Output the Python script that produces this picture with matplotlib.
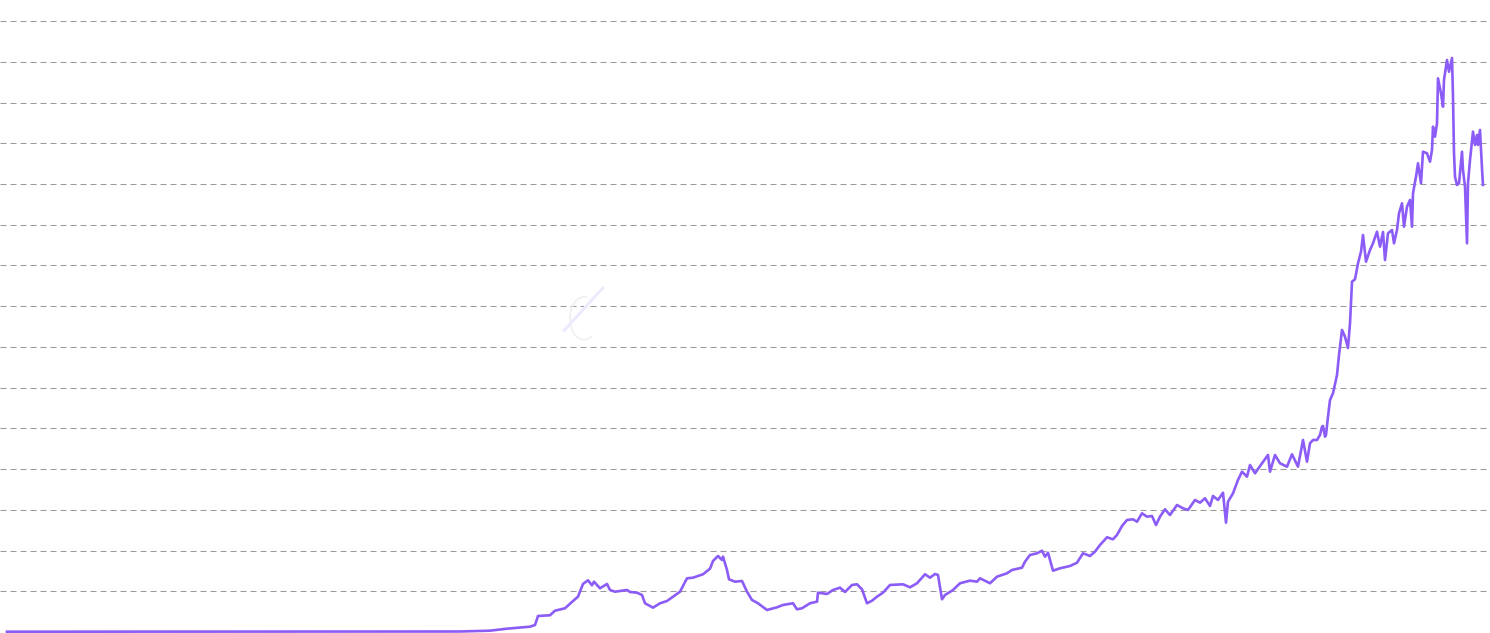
import numpy as np
import matplotlib
matplotlib.use("Agg")
from matplotlib import pyplot as plt

# trading day index and closing price (grid step = 10)
days = [0, 453, 483, 500, 523, 528, 531, 543, 548, 558, 566, 571, 576, 581, 585, 587,
        593, 600, 603, 608, 620, 623, 630, 635, 638, 646, 653, 660, 666, 673, 680, 686,
        696, 703, 706, 711, 715, 716, 720, 722, 728, 735, 740, 745, 751, 760, 770, 776,
        786, 790, 795, 803, 810, 811, 820, 826, 833, 838, 845, 850, 855, 860, 865, 870,
        876, 883, 896, 903, 910, 918, 923, 928, 931, 935, 938, 946, 953, 963, 970, 973,
        983, 990, 1000, 1005, 1015, 1018, 1023, 1030, 1035, 1038, 1041, 1046, 1053, 1063,
        1070, 1076, 1083, 1088, 1093, 1100, 1106, 1110, 1115, 1120, 1126, 1130, 1135, 1140,
        1145, 1149, 1153, 1158, 1163, 1170, 1176, 1181, 1188, 1193, 1198, 1203, 1206, 1211,
        1216, 1219, 1221, 1226, 1231, 1235, 1240, 1243, 1248, 1255, 1261, 1263, 1268, 1273,
        1280, 1285, 1291, 1296, 1300, 1303, 1306, 1310, 1313, 1315, 1316, 1318, 1319, 1321,
        1323, 1326, 1330, 1332, 1335, 1338, 1341, 1343, 1345, 1348, 1351, 1354, 1356, 1359,
        1363, 1366, 1370, 1373, 1376, 1378, 1381, 1385, 1387, 1390, 1392, 1395, 1397, 1400,
        1403, 1405, 1406, 1409, 1411, 1414, 1416, 1420, 1423, 1425, 1426, 1428, 1430, 1431,
        1434, 1436, 1437, 1440, 1442, 1445, 1446, 1447, 1448, 1450, 1452, 1455, 1456, 1458,
        1460, 1461, 1463, 1466, 1468, 1470, 1471, 1473, 1475, 1476]

price = [0.07, 0.12, 0.32, 0.81, 1.30, 1.72, 3.93, 4.10, 5.23, 5.82, 7.61, 8.67, 11.79, 12.69,
         11.47, 12.35, 10.73, 11.79, 10.31, 9.89, 10.31, 9.82, 9.65, 9.08, 7.05, 5.97, 7.05,
         7.61, 8.67, 9.89, 13.18, 13.33, 14.17, 15.54, 17.43, 18.66, 17.68, 18.49, 15.22,
         12.94, 12.35, 12.52, 9.89, 7.86, 7.05, 5.40, 6.06, 6.63, 7.05, 5.57, 5.82, 7.05,
         7.44, 9.65, 9.33, 10.31, 10.88, 9.82, 11.54, 11.71, 10.48, 7.05, 7.68, 8.67, 9.65,
         11.54, 11.71, 10.97, 11.96, 14.17, 13.33, 14.24, 13.99, 8.03, 9.08, 10.31, 11.96,
         12.60, 12.35, 13.18, 11.96, 13.58, 14.41, 15.22, 15.79, 17.26, 18.91, 19.32, 19.96,
         18.49, 19.47, 15.05, 15.64, 16.20, 17.01, 19.32, 18.66, 19.72, 21.36, 23.25, 22.76,
         23.82, 26.02, 27.50, 27.67, 27.08, 29.14, 28.31, 28.48, 26.27, 28.31, 30.13, 28.73,
         31.18, 30.37, 29.95, 32.41, 31.75, 32.83, 30.94, 33.39, 32.41, 34.20, 26.84, 31.99,
         34.05, 37.32, 39.36, 38.13, 41.00, 38.96, 41.42, 43.46, 39.36, 43.46, 41.42, 40.58,
         43.63, 40.58, 47.14, 41.81, 46.33, 47.14, 47.14, 48.37, 50.41, 50.58, 47.95, 48.37,
         52.86, 56.96, 58.61, 63.10, 68.01, 74.15, 72.50, 69.73, 75.79, 86.00, 86.60, 90.52,
         93.37, 97.47, 90.92, 93.79, 95.43, 98.28, 94.60, 98.21, 91.33, 97.89, 98.70, 95.43,
         98.70, 102.80, 105.25, 99.51, 104.42, 106.07, 99.51, 107.71, 111.79, 115.08, 110.16,
         117.92, 117.53, 115.47, 118.34, 124.06, 121.61, 124.90, 135.94, 132.26, 128.97,
         135.53, 140.44, 137.56, 140.92, 131.43, 117.53, 111.79, 109.75, 110.16, 117.92,
         113.43, 109.33, 95.43, 110.16, 115.89, 122.84, 119.57, 122.02, 119.57, 123.25,
         113.85, 109.75]

grid_levels = np.arange(10, 160, 10)

fig = plt.figure(figsize=(14.9, 6.33), dpi=100)
ax = fig.add_axes([0, 0, 1, 1])

for lvl in grid_levels:
    ax.axhline(lvl, color='#9a9a9a', lw=0.75, linestyle=(0, (5.8, 3.8)), zorder=1)

ax.plot(days, price, color='#8c5cf6', lw=1.9, solid_joinstyle='round', zorder=3)

# faint watermark logo
ax.add_patch(matplotlib.patches.Arc((577, 77), 28, 10.5, theta1=60, theta2=330,
                                    color='#f0f0f0', lw=1.2, zorder=2))
ax.plot([557, 596], [74, 84.5], color='#efe9fd', lw=2.2, solid_capstyle='round', zorder=2)

ax.set_xlim(-7, 1483)
ax.set_ylim(-0.25, 155.17)
ax.axis('off')

fig.savefig('out.png', dpi=100)
